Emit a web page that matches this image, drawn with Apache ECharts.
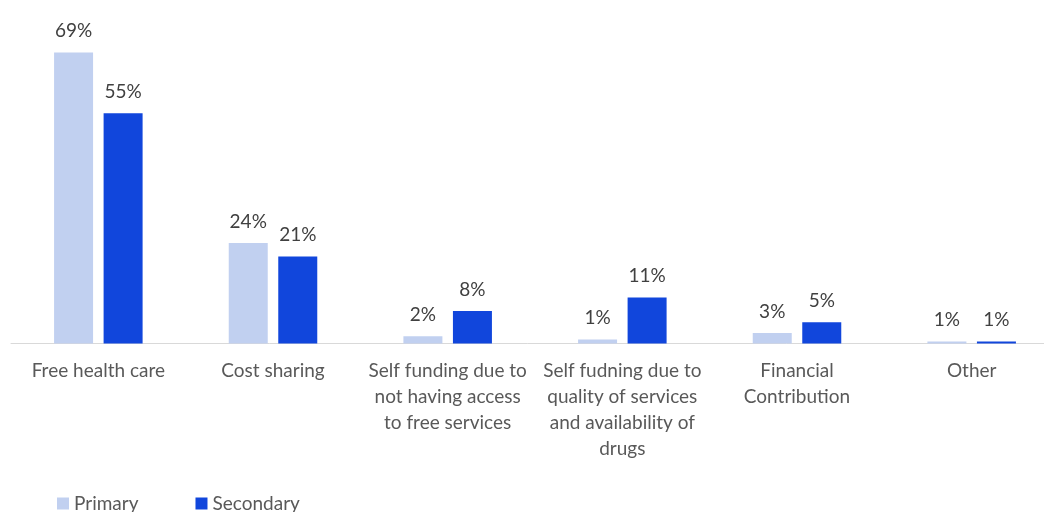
<!DOCTYPE html>
<html>
<head>
<meta charset="utf-8">
<script src="https://cdn.jsdelivr.net/npm/echarts@6/dist/echarts.min.js"></script>
<style>
html,body{margin:0;padding:0;background:#fff;}
#chart{width:1044px;height:512px;}
</style>
</head>
<body>
<div id="chart"></div>
<script>
var categories = [
  "Free health care",
  "Cost sharing",
  "Self funding due to\nnot having access\nto free services",
  "Self fudning due to\nquality of services\nand availability of\ndrugs",
  "Financial\nContribution",
  "Other"
];
var seriesNames = ["Primary", "Secondary"];
var primaryValues = [69, 23.8, 1.7, 0.95, 2.5, 0.5];
var secondaryValues = [54.6, 20.6, 7.7, 10.9, 5.05, 0.5];

var FONT = "Lato";
var chart = echarts.init(document.getElementById('chart'), null, {renderer: 'canvas'});
function pct(p){ return Math.round(p.value) + '%'; }
var labelStyle = {
  show: true, position: 'top', distance: 12,
  formatter: pct, color: '#404040', fontFamily: FONT, fontSize: 19
};
chart.setOption({
  animation: false,
  color: ['#C1D0F0', '#1146DC'],
  grid: {left: 11, top: 6, width: 1048, bottom: 168.5, containLabel: false, outerBoundsMode: 'none'},
  legend: {
    data: seriesNames, left: 52, top: 489,
    itemWidth: 12, itemHeight: 12, itemGap: 57, icon: 'rect',
    textStyle: {color: '#595959', fontFamily: FONT, fontSize: 19}
  },
  xAxis: {
    type: 'category', data: categories,
    axisLine: {lineStyle: {color: '#D9D9D9', width: 1}},
    axisTick: {show: false},
    axisLabel: {interval: 0, color: '#595959', fontFamily: FONT, fontSize: 19, lineHeight: 26, margin: 14}
  },
  yAxis: {type: 'value', min: 0, max: 80, show: false, splitLine: {show: false}},
  series: [
    {name: seriesNames[0], type: 'bar', data: primaryValues, barWidth: 39, barGap: '27%', label: labelStyle},
    {name: seriesNames[1], type: 'bar', data: secondaryValues, barWidth: 39, barGap: '27%', label: labelStyle}
  ]
});
</script>
</body>
</html>
